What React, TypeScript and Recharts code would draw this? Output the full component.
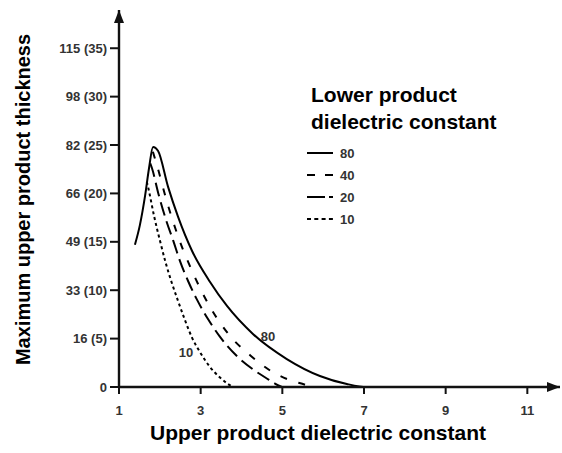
import { LineChart, Line, XAxis, YAxis, ReferenceDot } from 'recharts'

// Lower product dielectric constant curves: x = upper product dielectric constant, y = max thickness (mm)
const curve80 = [
  { x: 1.39, y: 14.7 }, { x: 1.51, y: 16.7 }, { x: 1.64, y: 19.8 }, { x: 1.735, y: 22.6 },
  { x: 1.833, y: 24.8 }, { x: 1.955, y: 24.4 }, { x: 2.2, y: 20.7 }, { x: 2.445, y: 17.6 },
  { x: 2.79, y: 14.05 }, { x: 3.23, y: 10.85 }, { x: 3.645, y: 8.37 }, { x: 4.28, y: 5.48 },
  { x: 5.11, y: 2.89 }, { x: 5.92, y: 1.14 }, { x: 6.58, y: 0.31 }, { x: 7.07, y: 0 },
  { x: 7.3, y: 0 },
]
const curve40 = [
  { x: 1.83, y: 24.3 }, { x: 1.93, y: 22.9 }, { x: 2.176, y: 19.1 }, { x: 2.452, y: 15.5 },
  { x: 2.82, y: 11.7 }, { x: 3.23, y: 8.27 }, { x: 3.72, y: 5.27 }, { x: 4.21, y: 3.29 },
  { x: 4.74, y: 1.6 }, { x: 5.19, y: 0.7 }, { x: 5.6, y: 0.17 }, { x: 5.7, y: 0 },
]
const curve20 = [
  { x: 1.765, y: 23.1 }, { x: 1.808, y: 22.6 }, { x: 1.963, y: 20.0 }, { x: 2.168, y: 17.05 },
  { x: 2.33, y: 15.1 }, { x: 2.494, y: 13.0 }, { x: 2.697, y: 10.9 }, { x: 2.9, y: 9.1 },
  { x: 3.187, y: 6.97 }, { x: 3.47, y: 5.2 }, { x: 3.88, y: 3.22 }, { x: 4.29, y: 1.8 },
  { x: 4.62, y: 0.88 }, { x: 4.82, y: 0.35 }, { x: 4.99, y: 0 },
]
const curve10 = [
  { x: 1.68, y: 21.2 }, { x: 1.718, y: 20.55 }, { x: 1.857, y: 17.7 }, { x: 2.004, y: 15.1 },
  { x: 2.139, y: 12.9 }, { x: 2.286, y: 10.85 }, { x: 2.445, y: 8.9 }, { x: 2.616, y: 6.9 },
  { x: 2.788, y: 5.1 }, { x: 2.984, y: 3.6 }, { x: 3.228, y: 2.07 }, { x: 3.473, y: 0.98 },
  { x: 3.67, y: 0.31 }, { x: 3.79, y: 0 },
]

const xTicks = [1, 3, 5, 7, 9, 11]
const yTicks = [0, 5, 10, 15, 20, 25, 30, 35]
const yTickLabels = ['0', '16 (5)', '33 (10)', '49 (15)', '66 (20)', '82 (25)', '98 (30)', '115 (35)']

const seriesNames = ['80', '40', '20', '10']
const curveLabels = [
  { x: 4.65, y: 5.2, text: '80' },
  { x: 2.64, y: 3.6, text: '10' },
]

const FONT = '"Liberation Sans", Arial, Helvetica, sans-serif'
const dashes: Record<string, string | undefined> = { '80': undefined, '40': '7 12', '20': '14 6', '10': '3 3' }
const legendDashes: Record<string, string | undefined> = { '80': undefined, '40': '8 10', '20': '18 4 4 4', '10': '4 3.3' }

function YTitle() {
  return (
    <text x={30} y={199.5} transform="rotate(-90 30 199.5)" textAnchor="middle"
      fontFamily={FONT} fontWeight={700} fontSize={20} fill="#000">
      Maximum upper product thickness
    </text>
  )
}

function XTitle() {
  return (
    <text x={318} y={440} textAnchor="middle" fontFamily={FONT} fontWeight={700} fontSize={21} fill="#000">
      Upper product dielectric constant
    </text>
  )
}

function LegendBox() {
  return (
    <div style={{ position: 'absolute', left: 307, top: 81, fontFamily: FONT, fontWeight: 700, color: '#000' }}>
      <div style={{ fontSize: 21, lineHeight: '27px', marginLeft: 4, whiteSpace: 'nowrap' }}>
        Lower product<br />dielectric constant
      </div>
      <div style={{ marginTop: 7 }}>
        {seriesNames.map((n) => (
          <div key={n} style={{ display: 'flex', alignItems: 'center', height: 22 }}>
            <svg width={26} height={6}>
              <line x1={0} y1={3} x2={26} y2={3} stroke="#000" strokeWidth={2} strokeDasharray={legendDashes[n]} />
            </svg>
            <span style={{ fontSize: 13, marginLeft: 7, color: '#333' }}>{n}</span>
          </div>
        ))}
      </div>
    </div>
  )
}

export default function App() {
  const curves: Record<string, { x: number; y: number }[]> = {
    '80': curve80, '40': curve40, '20': curve20, '10': curve10,
  }
  return (
    <div style={{ position: 'absolute', left: 0, top: 0, width: 562, height: 453, background: '#fff' }}>
      <svg width={0} height={0} style={{ position: 'absolute' }}>
        <defs>
          <marker id="axisArrow" viewBox="0 0 13 10" refX={13} refY={5} markerWidth={13} markerHeight={10}
            orient="auto-start-reverse" markerUnits="userSpaceOnUse">
            <path d="M0,0 L13,5 L0,10 z" fill="#111" />
          </marker>
        </defs>
      </svg>
      <LineChart width={562} height={453} margin={{ top: 10, right: 2, left: 0, bottom: 36 }}>
        <XAxis
          dataKey="x"
          type="number"
          domain={[1, 11.8]}
          ticks={xTicks}
          interval={0}
          allowDataOverflow
          height={30}
          tickSize={7}
          tickMargin={12}
          axisLine={{ stroke: '#111', strokeWidth: 2.4, markerEnd: 'url(#axisArrow)' }}
          tickLine={{ stroke: '#111', strokeWidth: 2 }}
          tick={{ fill: '#333', fontSize: 13, fontWeight: 700, fontFamily: FONT }}
          label={<XTitle />}
        />
        <YAxis
          dataKey="y"
          type="number"
          domain={[0, 38.95]}
          ticks={yTicks}
          interval={0}
          allowDataOverflow
          width={119}
          tickSize={9}
          tickMargin={3}
          tickFormatter={(v: number) => yTickLabels[yTicks.indexOf(v)] ?? ''}
          axisLine={{ stroke: '#111', strokeWidth: 2.4, markerStart: 'url(#axisArrow)' }}
          tickLine={{ stroke: '#111', strokeWidth: 2 }}
          tick={{ fill: '#333', fontSize: 13, fontWeight: 700, fontFamily: FONT }}
          label={<YTitle />}
        />
        {seriesNames.map((n) => (
          <Line
            key={n}
            data={curves[n]}
            dataKey="y"
            name={n}
            type="monotone"
            stroke="#000"
            strokeWidth={2}
            strokeDasharray={dashes[n]}
            dot={false}
            activeDot={false}
            isAnimationActive={false}
          />
        ))}
        {curveLabels.map((c) => (
          <ReferenceDot
            key={c.text}
            x={c.x}
            y={c.y}
            r={0}
            fill="none"
            stroke="none"
            label={{ value: c.text, position: 'center', fill: '#333', fontSize: 13, fontWeight: 700, fontFamily: FONT }}
          />
        ))}
      </LineChart>
      <LegendBox />
    </div>
  )
}
